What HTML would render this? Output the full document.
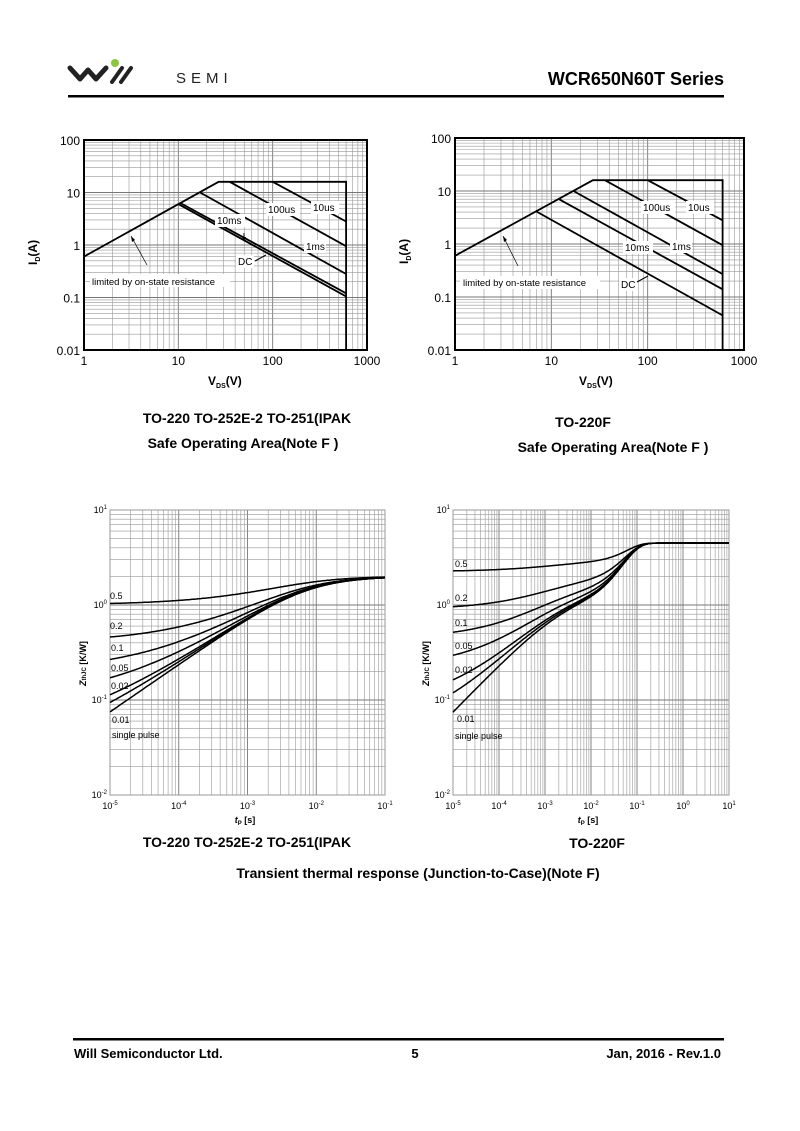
<!DOCTYPE html>
<html><head><meta charset="utf-8">
<style>
body{margin:0;background:#fff;}
#c{position:relative;width:800px;height:1131px;overflow:hidden;font-family:"Liberation Sans",Arial,sans-serif;}
</style></head>
<body><div id="c">
<svg id="s" width="800" height="1131" xmlns="http://www.w3.org/2000/svg" font-family="Liberation Sans, Arial, sans-serif">
<!-- header -->
<path d="M70 68 L80 79 L88 70 L96 79 L106 68" fill="none" stroke="#222" stroke-width="5" stroke-linejoin="round" stroke-linecap="round"/>
<path d="M112 82 L122 68 M121 82 L131 68" stroke="#222" stroke-width="4" stroke-linecap="round"/>
<circle cx="115" cy="63" r="4" fill="#8dc63f"/>
<text x="176" y="83" font-size="15" letter-spacing="5" fill="#222">SEMI</text>
<text x="724" y="85" font-size="18" font-weight="bold" text-anchor="end">WCR650N60T  Series</text>
<rect x="68" y="95" width="656" height="2.5" fill="#000"/>
<!-- footer -->
<rect x="73" y="1038" width="651" height="2.5" fill="#000"/>
<text x="74" y="1058" font-size="13" font-weight="bold">Will Semiconductor Ltd.</text>
<text x="415" y="1058" font-size="13" font-weight="bold" text-anchor="middle">5</text>
<text x="721" y="1058" font-size="13" font-weight="bold" text-anchor="end">Jan, 2016 - Rev.1.0</text>
<!-- captions -->
<g font-size="14" font-weight="bold" text-anchor="middle">
<text x="247" y="423">TO-220 TO-252E-2 TO-251(IPAK</text>
<text x="243" y="448">Safe Operating Area(Note F )</text>
<text x="583" y="427">TO-220F</text>
<text x="613" y="452">Safe Operating Area(Note F )</text>
<text x="247" y="847">TO-220 TO-252E-2 TO-251(IPAK</text>
<text x="597" y="848">TO-220F</text>
<text x="418" y="878">Transient thermal response (Junction-to-Case)(Note F)</text>
</g>
<g id="g"></g>
</svg>
</div>
<script>
var g=document.getElementById('g'),out='';
function L(a,b){return Math.log10(a)/1;}
function chart(o){
 var X=function(v){return o.x0+(Math.log10(v)-o.lx0)*(o.x1-o.x0)/(o.lx1-o.lx0);};
 var Y=function(v){return o.y1-(Math.log10(v)-o.ly0)*(o.y1-o.y0)/(o.ly1-o.ly0);};
 var s='';
 for(var d=o.lx0;d<o.lx1;d++)for(var m=1;m<10;m++){var x=X(m*Math.pow(10,d));s+='<line x1="'+x+'" y1="'+o.y0+'" x2="'+x+'" y2="'+o.y1+'" stroke="'+(m==1?'#777':'#999')+'" stroke-width="'+(m==1?0.9:0.6)+'"/>';}
 for(var d=o.ly0;d<o.ly1;d++)for(var m=1;m<10;m++){var y=Y(m*Math.pow(10,d));s+='<line x1="'+o.x0+'" y1="'+y+'" x2="'+o.x1+'" y2="'+y+'" stroke="'+(m==1?'#777':'#999')+'" stroke-width="'+(m==1?0.9:0.6)+'"/>';}
 s+='<rect x="'+o.x0+'" y="'+o.y0+'" width="'+(o.x1-o.x0)+'" height="'+(o.y1-o.y0)+'" fill="none" stroke="'+(o.soa?'#000':'#999')+'" stroke-width="'+(o.soa?2:1)+'"/>';
 o.X=X;o.Y=Y;return s;
}
function poly(o,pts,w){return '<polyline points="'+pts.map(function(p){return o.X(p[0]).toFixed(1)+','+o.Y(p[1]).toFixed(1)}).join(' ')+'" fill="none" stroke="#000" stroke-width="'+(w||1.8)+'"/>';}
function lab(x,y,t,fs,anchor){return '<text x="'+x+'" y="'+y+'" font-size="'+(fs||10)+'" '+(anchor?'text-anchor="'+anchor+'"':'')+'>'+t+'</text>';}
function labw(x,y,t,w){return '<rect x="'+(x-2)+'" y="'+(y-10)+'" width="'+w+'" height="13" fill="#fff"/>'+lab(x,y,t,10);}
// SOA left
var A={x0:84,x1:367,y0:140,y1:350,lx0:0,lx1:3,ly0:-2,ly1:2,soa:1};
out+=chart(A);
out+=poly(A,[[1,0.6],[26.7,16],[600,16],[600,0.01]]);
out+=poly(A,[[100,16],[600,2.8]]);
out+=poly(A,[[35,16],[600,0.95]]);
out+=poly(A,[[17,10],[600,0.28]]);
out+=poly(A,[[10.5,6.3],[600,0.12]]);
out+=poly(A,[[10,6],[600,0.105]]);
out+=labw(268,213,'100us',34)+labw(313,211,'10us',28)+labw(217,224,'10ms',30)+labw(306,250,'1ms',22)+labw(238,265,'DC',18);
out+='<rect x="90" y="274" width="140" height="13" fill="#fff"/>'+lab(92,285,'limited by on-state resistance',9.5);
out+='<line x1="147" y1="265" x2="131" y2="236" stroke="#000" stroke-width="0.7"/><path d="M131 236 l1 6 l3 -2z"/>';
out+='<line x1="244" y1="233" x2="244" y2="240" stroke="#000"/><path d="M242 237 l2 4 l2 -4z"/>';
out+='<line x1="255" y1="261" x2="266" y2="255" stroke="#000"/>';
// SOA right
var B={x0:455,x1:744,y0:138,y1:350,lx0:0,lx1:3,ly0:-2,ly1:2,soa:1};
out+=chart(B);
out+=poly(B,[[1,0.6],[27,16],[600,16],[600,0.01]]);
out+=poly(B,[[100,16],[600,2.8]]);
out+=poly(B,[[36,16],[600,0.95]]);
out+=poly(B,[[17,10],[600,0.27]]);
out+=poly(B,[[12,7],[600,0.14]]);
out+=poly(B,[[7,4.1],[600,0.045]]);
out+=labw(643,211,'100us',34)+labw(688,211,'10us',28)+labw(625,251,'10ms',30)+labw(672,250,'1ms',22)+labw(621,288,'DC',18);
out+='<rect x="460" y="276" width="140" height="13" fill="#fff"/>'+lab(463,286,'limited by on-state resistance',9.5);
out+='<line x1="518" y1="266" x2="503" y2="236" stroke="#000" stroke-width="0.7"/><path d="M503 236 l1 6 l3 -2z"/>';
out+='<line x1="637" y1="282" x2="648" y2="276" stroke="#000"/>';
// tick labels SOA
[[A],[B]].forEach(function(c){c=c[0];
 ['1','10','100','1000'].forEach(function(t,i){out+=lab(c.X(Math.pow(10,i)),c.y1+15,t,12,'middle');});
 ['0.01','0.1','1','10','100'].forEach(function(t,i){out+=lab(c.x0-4,c.Y(Math.pow(10,i-2))+5,t,12,'end');});
 var cx=(c.x0+c.x1)/2-12;
 out+='<text x="'+(c.x0+124)+'" y="'+(c.y1+35)+'" font-size="12" font-weight="bold">V<tspan font-size="7" dy="3">DS</tspan><tspan dy="-3">(V)</tspan></text>';
 out+='<text transform="translate('+(c.x0-47)+','+(c.Y(1)+20)+') rotate(-90)" font-size="12" font-weight="bold">I<tspan font-size="7" dy="3">D</tspan><tspan dy="-3">(A)</tspan></text>';
});
// thermal
var Ds=[0.5,0.2,0.1,0.05,0.02,0.01,0];
function zl(t){var a=23.7*Math.sqrt(t),R=2;return 1/Math.sqrt(1/(a*a)+1/(R*R));}
function zr(t){var a=23.7*Math.sqrt(t),R=1.3;var f=1/Math.pow(Math.pow(a,-1.6)+Math.pow(R,-1.6),1/1.6);return f+3.2*(1-Math.exp(-Math.pow(t/0.07,1.5)));}
function therm(o,zs,R,le,ticks){
 var s=chart(o);
 Ds.forEach(function(D){var pts=[];for(var l=o.lx0;l<=o.lx1+1e-9;l+=0.02){var t=Math.pow(10,l);pts.push([t,D*R+(1-D)*zs(t)]);}s+=poly(o,pts,1.5);});
 ticks.forEach(function(e){s+='<text x="'+o.X(Math.pow(10,e))+'" y="'+(o.y1+14)+'" font-size="9" text-anchor="middle">10<tspan font-size="6" dy="-4">'+e+'</tspan></text>';});
 [1,0,-1,-2].forEach(function(e){s+='<text x="'+(o.x0-3)+'" y="'+(o.Y(Math.pow(10,e))+3)+'" font-size="9" text-anchor="end">10<tspan font-size="6" dy="-4">'+e+'</tspan></text>';});
 s+='<text x="'+(o.x0+135)+'" y="'+(o.y1+28)+'" font-size="9" font-weight="bold" text-anchor="middle"><tspan font-style="italic">t</tspan><tspan font-size="6" dy="2">P</tspan><tspan dy="-2"> [s]</tspan></text>';
 s+='<text transform="translate('+(o.x0-24)+',686) rotate(-90)" font-size="9" font-weight="bold"><tspan font-style="italic">Z</tspan><tspan font-size="6">thJC</tspan> [K/W]</text>';
 return s;
}
var C={x0:110,x1:385,y0:510,y1:795,lx0:-5,lx1:-1,ly0:-2,ly1:1};
out+=therm(C,zl,2,0,[-5,-4,-3,-2,-1]);
out+=lab(110,599,'0.5',9)+lab(110,629,'0.2',9)+lab(111,651,'0.1',9)+lab(111,671,'0.05',9)+lab(111,689,'0.02',9)+lab(112,723,'0.01',9)+lab(112,738,'single pulse',9);
var E={x0:453,x1:729,y0:510,y1:795,lx0:-5,lx1:1,ly0:-2,ly1:1};
out+=therm(E,zr,4.5,0,[-5,-4,-3,-2,-1,0,1]);
out+=lab(455,567,'0.5',9)+lab(455,601,'0.2',9)+lab(455,626,'0.1',9)+lab(455,649,'0.05',9)+lab(455,673,'0.02',9)+lab(457,722,'0.01',9)+lab(455,739,'single pulse',9);
g.innerHTML=out;
</script>
</body></html>
